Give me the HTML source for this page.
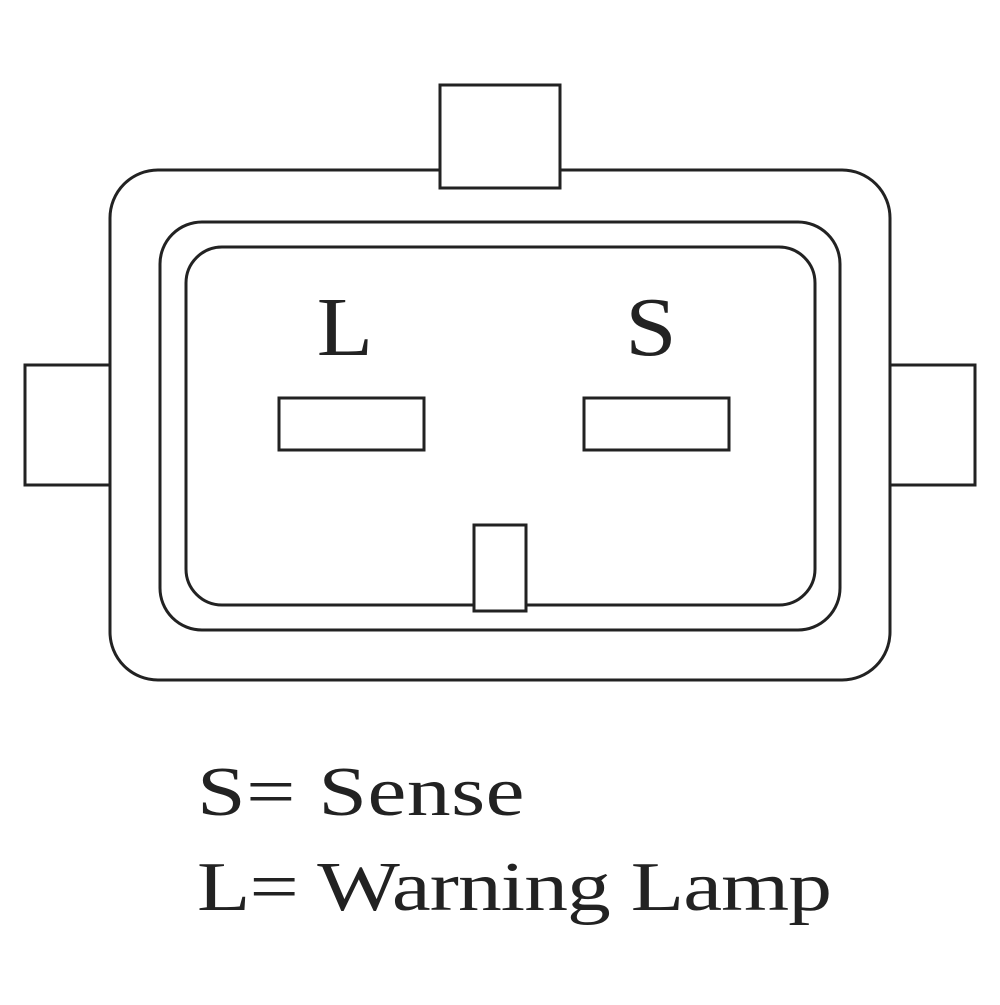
<!DOCTYPE html>
<html><head><style>body{margin:0;background:#fff}</style></head><body>
<svg width="1000" height="1000" viewBox="0 0 1000 1000" xmlns="http://www.w3.org/2000/svg">
<g fill="none" stroke="#222" stroke-width="3">
<rect x="25" y="365" width="85" height="120" fill="#fff"/>
<rect x="890" y="365" width="85" height="120" fill="#fff"/>
<rect x="110" y="170" width="780" height="510" rx="48" fill="#fff"/>
<rect x="440" y="85" width="120" height="103" fill="#fff"/>
<rect x="160" y="222" width="680" height="408" rx="42"/>
<rect x="186" y="247" width="629" height="358" rx="36"/>
<rect x="279" y="398" width="145" height="52"/>
<rect x="584" y="398" width="145" height="52"/>
<rect x="474" y="525" width="52" height="86" fill="#fff"/>
</g>
<g font-family="Liberation Serif, serif" fill="#222">
<text x="345" y="355" font-size="84" text-anchor="middle" transform="translate(345 0) scale(1.1 1) translate(-345 0)">L</text>
<text x="651" y="355" font-size="84" text-anchor="middle" transform="translate(651 0) scale(1.1 1) translate(-651 0)">S</text>
<g transform="translate(197 0) scale(1.25 1)">
<text x="0" y="815" font-size="70" textLength="262" lengthAdjust="spacing">S= Sense</text>
<text x="0" y="910" font-size="70" textLength="508" lengthAdjust="spacing">L= Warning Lamp</text>
</g>
</g>
</svg>
</body></html>
